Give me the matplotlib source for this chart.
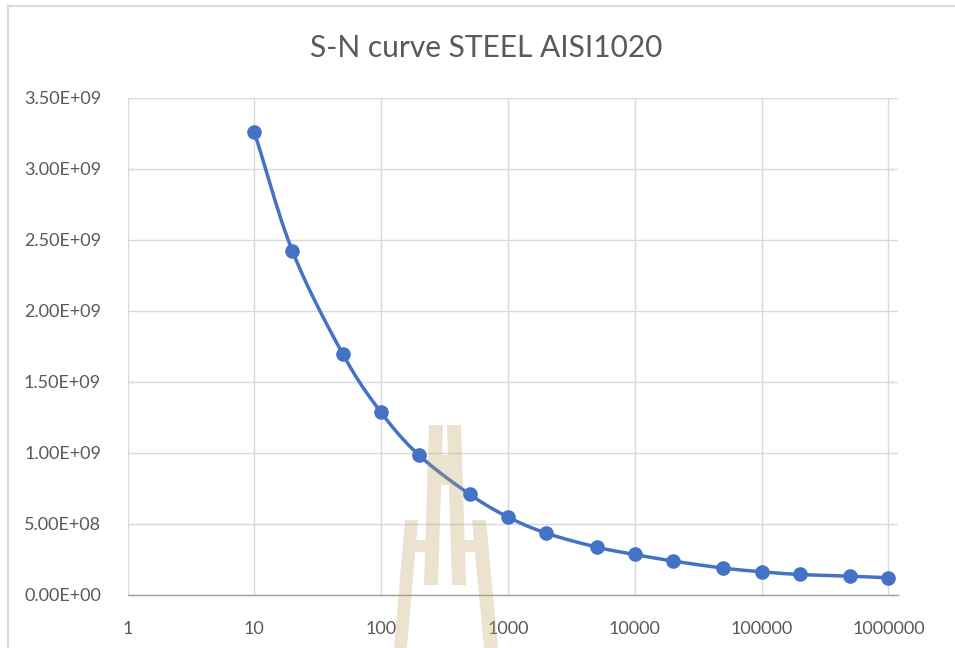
import numpy as np
import matplotlib
matplotlib.use("Agg")
import matplotlib.pyplot as plt
from matplotlib.path import Path
from matplotlib.patches import PathPatch
from matplotlib.lines import Line2D
from matplotlib.ticker import FuncFormatter, FixedLocator

# Fatigue data: number of cycles N and stress amplitude S (Pa)
cycles = [10, 20, 50, 100, 200, 500, 1000, 2000, 5000, 10000,
          20000, 50000, 100000, 200000, 500000, 1000000]
stress = [3.261e9, 2.420e9, 1.693e9, 1.283e9, 0.980e9, 0.706e9, 0.546e9, 0.433e9,
          0.334e9, 0.282e9, 0.236e9, 0.186e9, 0.160e9, 0.141e9, 0.129e9, 0.118e9]

x_ticks = [1, 10, 100, 1000, 10000, 100000, 1000000]
x_tick_labels = ["1", "10", "100", "1000", "10000", "100000", "1000000"]
y_ticks = [0, 0.5e9, 1.0e9, 1.5e9, 2.0e9, 2.5e9, 3.0e9, 3.5e9]

title = "S-N curve STEEL AISI1020"

TEXT = "#595959"
GRID = "#d9d9d9"
BLUE = "#4472C4"
W, H = 955, 648

plt.rcParams["font.family"] = ["Lato", "DejaVu Sans"]

fig = plt.figure(figsize=(W / 100, H / 100), dpi=100)
fig.patch.set_facecolor("white")

# chart frame (top and left edges visible)
fig.add_artist(Line2D([8 / W, 1.0], [1 - 6 / H, 1 - 6 / H], transform=fig.transFigure,
                      color="#d9d9d9", lw=1.5))
fig.add_artist(Line2D([8 / W, 8 / W], [1 - 6 / H, 0.0], transform=fig.transFigure,
                      color="#d9d9d9", lw=1.5))

ax = fig.add_axes([127.5 / W, 1 - 594.5 / H, (898 - 127.5) / W, (594.5 - 98) / H])
ax.set_xscale("log")
ax.set_xlim(1, 10 ** 6.076)
ax.set_ylim(0, 3.5e9)

ax.xaxis.set_major_locator(FixedLocator(x_ticks))
ax.xaxis.set_minor_locator(FixedLocator([]))
ax.set_xticks(x_ticks)
ax.set_xticklabels(x_tick_labels)
ax.set_yticks(y_ticks)
ax.yaxis.set_major_formatter(FuncFormatter(lambda v, p: "%.2E" % v))

ax.tick_params(axis="both", length=0, labelsize=13, labelcolor=TEXT)
ax.tick_params(axis="y", pad=19)
ax.tick_params(axis="x", pad=19)

ax.grid(True, which="major", color=GRID, lw=1.0)
ax.set_axisbelow(True)
for s in ("top", "right", "left"):
    ax.spines[s].set_visible(False)
ax.spines["bottom"].set_color("#a0a0a0")
ax.spines["bottom"].set_linewidth(1.0)


def smooth_curve(xs, ys, n=30):
    """Catmull-Rom smoothing in log-x / linear-y space."""
    u = np.log10(np.asarray(xs, float))
    v = np.asarray(ys, float) / 1e9 * (141.6 / 126.8)
    pts = np.column_stack([u, v])
    ext = np.vstack([2 * pts[0] - pts[1], pts, 2 * pts[-1] - pts[-2]])
    out = []
    for i in range(1, len(ext) - 2):
        p0, p1, p2, p3 = ext[i - 1], ext[i], ext[i + 1], ext[i + 2]
        t = np.linspace(0, 1, n, endpoint=False)[:, None]
        seg = 0.5 * ((2 * p1) + (-p0 + p2) * t + (2 * p0 - 5 * p1 + 4 * p2 - p3) * t ** 2
                     + (-p0 + 3 * p1 - 3 * p2 + p3) * t ** 3)
        out.append(seg)
    out.append(pts[-1:])
    out = np.vstack(out)
    return 10 ** out[:, 0], out[:, 1] * (126.8 / 141.6) * 1e9


sx, sy = smooth_curve(cycles, stress)
ax.plot(sx, sy, color=BLUE, lw=2.5, solid_capstyle="round", zorder=3)
ax.plot(cycles, stress, linestyle="none", marker="o", markersize=9.5,
        color=BLUE, markeredgecolor=BLUE, zorder=4)

fig.text(486 / W, 1 - 48 / H, title, ha="center", va="center", fontsize=21.5, color=TEXT)

# faint logo mark over the lower middle of the chart
def px(pts):
    return [(x / W, 1 - y / H) for x, y in pts]

shapes = [
    [(429, 425), (443, 425), (438, 585), (424, 585)],
    [(447, 425), (461, 425), (466, 585), (452, 585)],
    [(441, 455), (449, 455), (449, 485), (441, 485)],
    [(405, 520), (418, 520), (407, 648), (394, 648)],
    [(472, 520), (486, 520), (498, 648), (484, 648)],
    [(415, 540), (427, 540), (427, 552), (414, 552)],
    [(463, 540), (475, 540), (476, 552), (463, 552)],
]
verts, codes = [], []
for shp in shapes:
    p = px(shp)
    verts += p + [p[0]]
    codes += [Path.MOVETO] + [Path.LINETO] * (len(p) - 1) + [Path.CLOSEPOLY]
logo = PathPatch(Path(verts, codes), transform=fig.transFigure,
                 facecolor=(190 / 255, 160 / 255, 100 / 255), edgecolor="none",
                 alpha=0.3, zorder=10)
fig.add_artist(logo)

fig.savefig("out.png", dpi=100, facecolor="white")
